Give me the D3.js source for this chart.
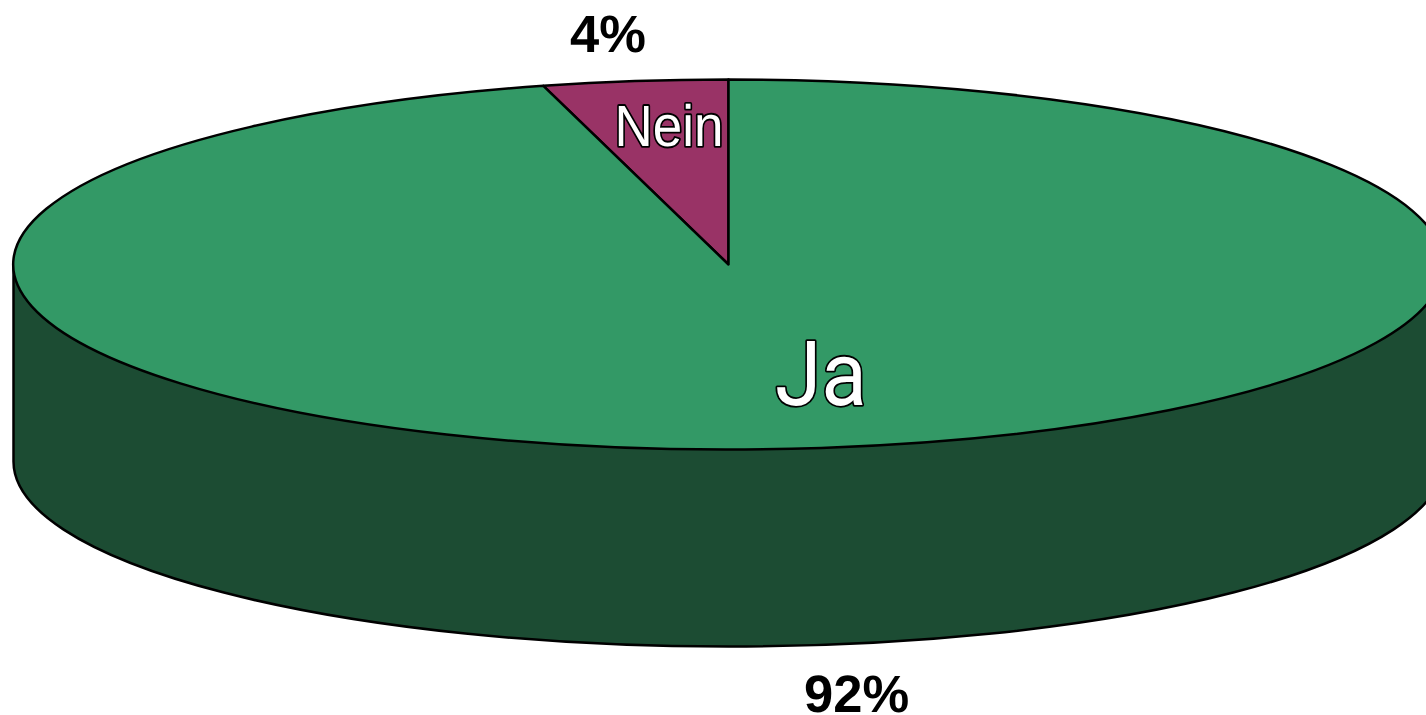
<!DOCTYPE html>
<html><head><meta charset="utf-8">
<script src="https://cdn.jsdelivr.net/npm/d3@7/dist/d3.min.js"></script>
<style>html,body{margin:0;padding:0;background:#fff;overflow:hidden}svg{display:block;font-family:"Liberation Sans",Arial,sans-serif;text-rendering:geometricPrecision}</style>
</head><body>
<script>
const categories = ["Nein", "Ja"];
const values = [4, 92];
const percentLabels = ["4%", "92%"];
const topColors = ["#993366", "#339966"];
const sideColor = "#1c4c33";

const W = 1426, H = 715;
const cx = 728.5, cy = 264.5, rx = 715, ry = 185, depth = 197;
const total = d3.sum(values);
const start = -2 * Math.PI * values[0] / total;

const svg = d3.select("body").append("svg").attr("width", W).attr("height", H);

const pie = d3.pie().sort(null).startAngle(start).endAngle(start + 2 * Math.PI);
const arc = d3.arc().innerRadius(0).outerRadius(1);

// Cylinder wall
svg.append("path")
  .attr("d", `M${cx - rx},${cy} L${cx - rx},${cy + depth} A${rx},${ry} 0 0 0 ${cx + rx},${cy + depth} L${cx + rx},${cy} Z`)
  .attr("fill", sideColor).attr("stroke", "#000").attr("stroke-width", 2.5).attr("stroke-linejoin", "round");

// Top face
const topFace = svg.append("g").attr("transform", `translate(${cx},${cy}) scale(${rx},${ry})`);
topFace.selectAll("path").data(pie(values)).join("path")
  .attr("d", arc)
  .attr("fill", (d, i) => topColors[i])
  .attr("stroke", "#000").attr("stroke-width", 2.5)
  .attr("stroke-linejoin", "round")
  .attr("vector-effect", "non-scaling-stroke");

// Category labels (slightly stretched, outlined)
const catSpec = [
  {x: 614.5, y: 146, size: 53, sy: 1.1, font: "Liberation Sans"},
  {x: 775, y: 405, size: 84, sy: 1.07, font: "Roboto"}
];
categories.forEach((c, i) => {
  const s = catSpec[i];
  svg.append("text").text(c)
    .attr("transform", `translate(${s.x},${s.y}) scale(1,${s.sy})`)
    .attr("font-family", s.font)
    .attr("font-size", s.size).attr("fill", "#fff")
    .attr("stroke", "#000").attr("stroke-width", 3.4).attr("paint-order", "stroke")
    .attr("stroke-linejoin", "round");
});

// Percent labels
const pctSpec = [{x: 570, y: 52}, {x: 804, y: 712}];
percentLabels.forEach((t, i) => {
  svg.append("text").text(t)
    .attr("x", pctSpec[i].x).attr("y", pctSpec[i].y)
    .attr("font-size", 52.5).attr("font-weight", "bold").attr("fill", "#000");
});
</script>
</body></html>
